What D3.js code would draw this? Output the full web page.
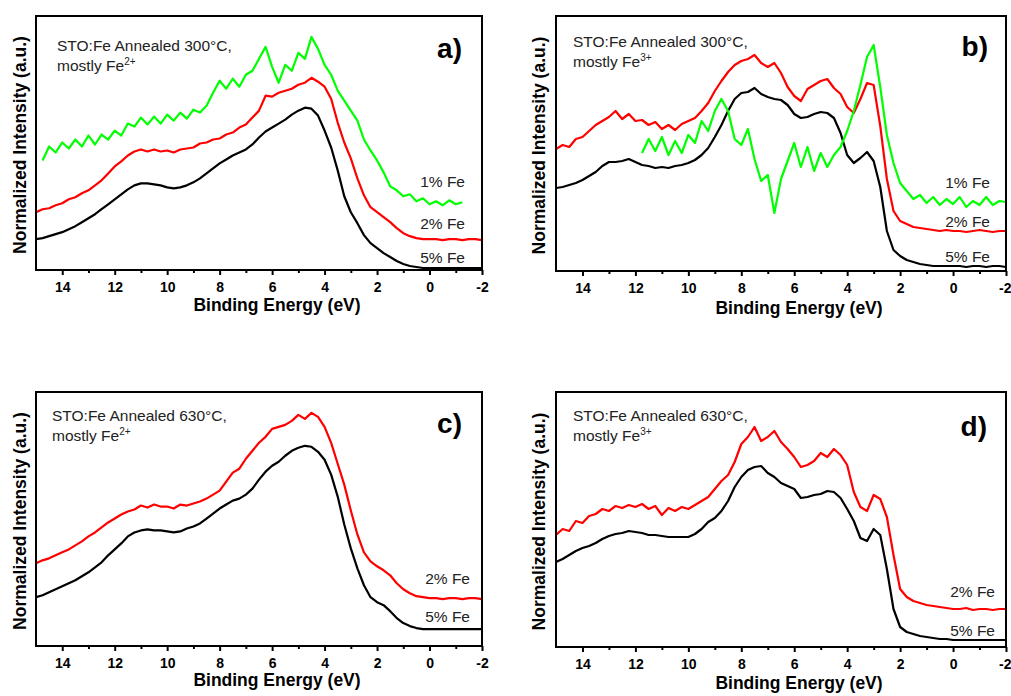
<!DOCTYPE html>
<html>
<head>
<meta charset="utf-8">
<script src="https://cdn.jsdelivr.net/npm/d3@7"></script>
<style>
body { margin: 0; background: #fff; }
text { font-family: Arial, "Liberation Sans", sans-serif; }
</style>
</head>
<body>
<div id="chart"></div>
<script>
// binding energy grid (eV), shared by every spectrum
var energy = [
  15, 14.75, 14.5, 14.25, 14, 13.75, 13.5, 13.25, 13, 12.75, 12.5, 12.25,
  12, 11.75, 11.5, 11.25, 11, 10.75, 10.5, 10.25, 10, 9.75, 9.5, 9.25,
  9, 8.75, 8.5, 8.25, 8, 7.75, 7.5, 7.25, 7, 6.75, 6.5, 6.25,
  6, 5.75, 5.5, 5.25, 5, 4.75, 4.5, 4.25, 4, 3.75, 3.5, 3.25,
  3, 2.75, 2.5, 2.25, 2, 1.75, 1.5, 1.25, 1, 0.75, 0.5, 0.25,
  0, -0.25, -0.5, -0.75, -1, -1.25, -1.5, -1.75, -2
];
var xTicks = [14, 12, 10, 8, 6, 4, 2, 0, -2];
var xMinor = [13, 11, 9, 7, 5, 3, 1, -1];

// normalized intensity (a.u.), panel a: 300C, Fe2+
var a5 = [31,32,34,36, 38,41,44,48, 52,56,61,66, 71,76,81,85, 87,87,86,85, 83,82,83,85,
  88,92,97,102, 107,111,115,118, 121,126,133,139, 143,147,151,156, 160,163,162,155,
  140,123,100,74, 58,47,35,27, 22,17,13,9, 6,4,3,2, 2,2,2,2, 2,2,2,2, 2];
var a2 = [58,61,62,65, 67,71,73,77, 80,85,90,97, 104,109,115,119, 121,119,121,119, 120,118,121,122,
  123,127,128,131, 132,136,138,143, 146,153,160,175, 174,178,180,182, 186,188,193,189,
  184,172,148,128, 112,92,75,63, 58,53,48,42, 37,34,32,31, 31,31,30,31, 31,30,31,31, 30];
var a1 = [null,110,124,118, 128,122,131,124, 135,126,136,131, 140,135,147,144, 153,146,154,147, 156,150,158,152,
  161,158,165,178, 190,182,192,184, 196,200,212,224, 204,188,206,200, 218,212,234,222,
  206,196,180,170, 160,150,131,120, 110,98,84,80, 74,76,69,72, 66,69,65,70, 66,68,null,null, null];

// panel b: 300C, Fe3+
var b5 = [83,84,86,88, 91,95,99,105, 109,109,110,112, 109,106,105,103, 104,103,105,106, 108,111,116,123,
  134,146,160,172, 178,179,183,177, 174,172,171,166, 157,153,154,157, 159,158,153,138,
  116,108,113,119, 110,84,40,21, 15,11,9,7, 6,5,5,5, 5,5,4,5, 5,4,5,5, 4];
var b2 = [122,126,124,132, 134,140,146,150, 154,160,152,157, 150,151,146,149, 142,146,141,147, 150,153,160,168,
  180,190,199,206, 210,212,216,208, 204,208,198,184, 175,170,182,186, 190,192,183,177,
  164,158,172,188, 186,145,92,60, 50,47,44,43, 42,41,40,41, 40,40,39,40, 41,40,39,40, 40];
var b1 = [null,null,null,null, null,null,null,null, null,null,null,null, null,118,132,120, 134,116,130,118, 136,128,150,140,
  160,172,160,132, 126,142,112,90, 96,58,92,110, 128,104,124,100, 118,104,116,124,
  140,160,186,214, 226,184,136,108, 88,80,72,76, 68,74,66,72, 67,74,64,70, 66,74,66,70, 69];

// panel c: 630C, Fe2+
var c5 = [49,51,54,57, 60,63,66,70, 74,79,84,91, 97,103,110,114, 116,117,116,116, 115,114,115,118,
  120,123,128,133, 138,142,146,148, 152,158,167,175, 181,185,191,196, 199,201,200,195,
  187,172,150,122, 98,78,61,49, 44,41,35,28, 23,20,18,17, 17,17,17,17, 17,17,17,17, 17];
var c2 = [83,86,88,91, 94,97,101,105, 110,114,119,124, 128,132,135,137, 141,139,142,140, 140,138,142,141,
  143,145,148,152, 156,165,174,178, 188,196,204,210, 218,220,222,226, 232,228,234,230,
  220,204,183,162, 136,112,94,85, 80,76,71,63, 57,53,50,49, 48,48,47,48, 48,47,48,48, 47];

// panel d: 630C, Fe3+
var d5 = [85,88,92,96, 99,101,104,108, 111,113,114,116, 115,114,112,112, 111,110,110,110, 110,113,118,125,
  129,136,146,160, 170,177,180,181, 174,170,164,161, 158,149,150,152, 153,156,155,149,
  138,126,109,106, 118,112,78,38, 20,15,13,11, 10,9,8,8, 7,7,7,7, 7,7,7,7, 7];
var d2 = [112,118,116,126, 124,131,133,138, 136,141,139,142, 140,143,138,141, 132,139,136,140, 138,142,146,150,
  158,166,172,185, 203,210,220,206, 210,216,205,198, 190,180,182,186, 194,190,198,192,
  182,155,140,136, 152,148,130,92, 58,50,46,44, 42,41,40,39, 38,38,39,37, 38,38,37,38, 38];

var black = "#000000", red = "#ff0000", green = "#00ff00";

var panels = [
  { tag: "a)", temp: "300", ion: "2+", left: 36, right: 482, top: 16, bottom: 270,
    noteX: 57, noteY: 51, tagX: 462, tagY: 58, labelX: 465, yTitleX: 26, xTitleY: 311,
    series: [{ v: a1, c: green, name: "1% Fe", ly: 187 }, { v: a2, c: red, name: "2% Fe", ly: 229 }, { v: a5, c: black, name: "5% Fe", ly: 263 }] },
  { tag: "b)", temp: "300", ion: "3+", left: 556, right: 1006, top: 16, bottom: 271,
    noteX: 573, noteY: 47, tagX: 988, tagY: 56, labelX: 990, yTitleX: 545, xTitleY: 314,
    series: [{ v: b5, c: black, name: "5% Fe", ly: 262 }, { v: b2, c: red, name: "2% Fe", ly: 227 }, { v: b1, c: green, name: "1% Fe", ly: 188 }] },
  { tag: "c)", temp: "630", ion: "2+", left: 36, right: 482, top: 392, bottom: 646,
    noteX: 52, noteY: 421, tagX: 462, tagY: 433, labelX: 470, yTitleX: 26, xTitleY: 686,
    series: [{ v: c2, c: red, name: "2% Fe", ly: 584 }, { v: c5, c: black, name: "5% Fe", ly: 622 }] },
  { tag: "d)", temp: "630", ion: "3+", left: 556, right: 1006, top: 392, bottom: 647,
    noteX: 573, noteY: 421, tagX: 987, tagY: 436, labelX: 995, yTitleX: 545, xTitleY: 689,
    series: [{ v: d2, c: red, name: "2% Fe", ly: 597 }, { v: d5, c: black, name: "5% Fe", ly: 636 }] }
];

var svg = d3.select("#chart")
  .append("svg")
  .attr("width", 1011)
  .attr("height", 696);

panels.forEach(function (p, k) {
  var x = d3.scaleLinear().domain([15, -2]).range([p.left, p.right]);
  var y = d3.scaleLinear().domain([0, 255]).range([p.bottom, p.top]);

  var clipId = "clip" + k;
  svg.append("clipPath").attr("id", clipId)
    .append("rect")
    .attr("x", p.left).attr("y", p.top)
    .attr("width", p.right - p.left).attr("height", p.bottom - p.top);

  var line = d3.line()
    .defined(d => d[1] != null)
    .x(d => x(d[0]))
    .y(d => y(d[1]));

  var g = svg.append("g").attr("clip-path", "url(#" + clipId + ")");
  p.series.forEach(function (s) {
    g.append("path")
      .datum(energy.map((e, i) => [e, s.v[i]]))
      .attr("fill", "none")
      .attr("stroke", s.c)
      .attr("stroke-width", 2.2)
      .attr("stroke-linejoin", "round")
      .attr("d", line);
  });

  // series labels
  p.series.forEach(function (s) {
    svg.append("text")
      .attr("x", p.labelX)
      .attr("y", s.ly)
      .attr("text-anchor", "end")
      .attr("font-size", "15.5px")
      .attr("fill", "#222")
      .text(s.name);
  });

  // frame
  svg.append("rect")
    .attr("x", p.left).attr("y", p.top)
    .attr("width", p.right - p.left).attr("height", p.bottom - p.top)
    .attr("fill", "none")
    .attr("stroke", "#000")
    .attr("stroke-width", 2);

  // bottom axis, major and minor ticks
  var major = svg.append("g")
    .attr("transform", `translate(0, ${p.bottom})`)
    .call(d3.axisBottom(x).tickValues(xTicks).tickSize(5).tickPadding(7).tickFormat(d => String(d)));
  major.select(".domain").remove();
  major.selectAll("line").attr("stroke-width", 2);
  major.selectAll("text")
    .attr("font-size", "14px")
    .attr("font-weight", "700")
    .attr("font-family", "Arial, 'Liberation Sans', sans-serif")
    .attr("fill", "#000")
    .attr("text-anchor", d => (d === -2 && p.right > 1000) ? "end" : "middle")
    .attr("dx", d => (d === -2 && p.right > 1000) ? 5 : 0);

  var minor = svg.append("g")
    .attr("transform", `translate(0, ${p.bottom})`)
    .call(d3.axisBottom(x).tickValues(xMinor).tickSize(3).tickFormat(""));
  minor.select(".domain").remove();
  minor.selectAll("line").attr("stroke-width", 2);

  // axis titles
  svg.append("text")
    .attr("x", (p.left + p.right) / 2 + 18)
    .attr("y", p.xTitleY)
    .attr("text-anchor", "middle")
    .attr("font-size", "17.5px")
    .attr("font-weight", "700")
    .text("Binding Energy (eV)");

  svg.append("text")
    .attr("transform", `translate(${p.yTitleX}, ${(p.top + p.bottom) / 2 + 2}) rotate(-90)`)
    .attr("text-anchor", "middle")
    .attr("font-size", "17.5px")
    .attr("font-weight", "700")
    .text("Normalized Intensity (a.u.)");

  // annotation
  svg.append("text")
    .attr("x", p.noteX).attr("y", p.noteY)
    .attr("font-size", "15.5px")
    .attr("fill", "#222")
    .text("STO:Fe Annealed " + p.temp + "\u00B0C,");
  var t2 = svg.append("text")
    .attr("x", p.noteX).attr("y", p.noteY + 20)
    .attr("font-size", "15.5px")
    .attr("fill", "#222");
  t2.append("tspan").text("mostly Fe");
  t2.append("tspan").attr("dy", -6).attr("font-size", "10px").text(p.ion);

  // panel tag
  svg.append("text")
    .attr("x", p.tagX).attr("y", p.tagY)
    .attr("text-anchor", "end")
    .attr("font-size", "28px")
    .attr("font-weight", "700")
    .text(p.tag);
});
</script>
</body>
</html>
